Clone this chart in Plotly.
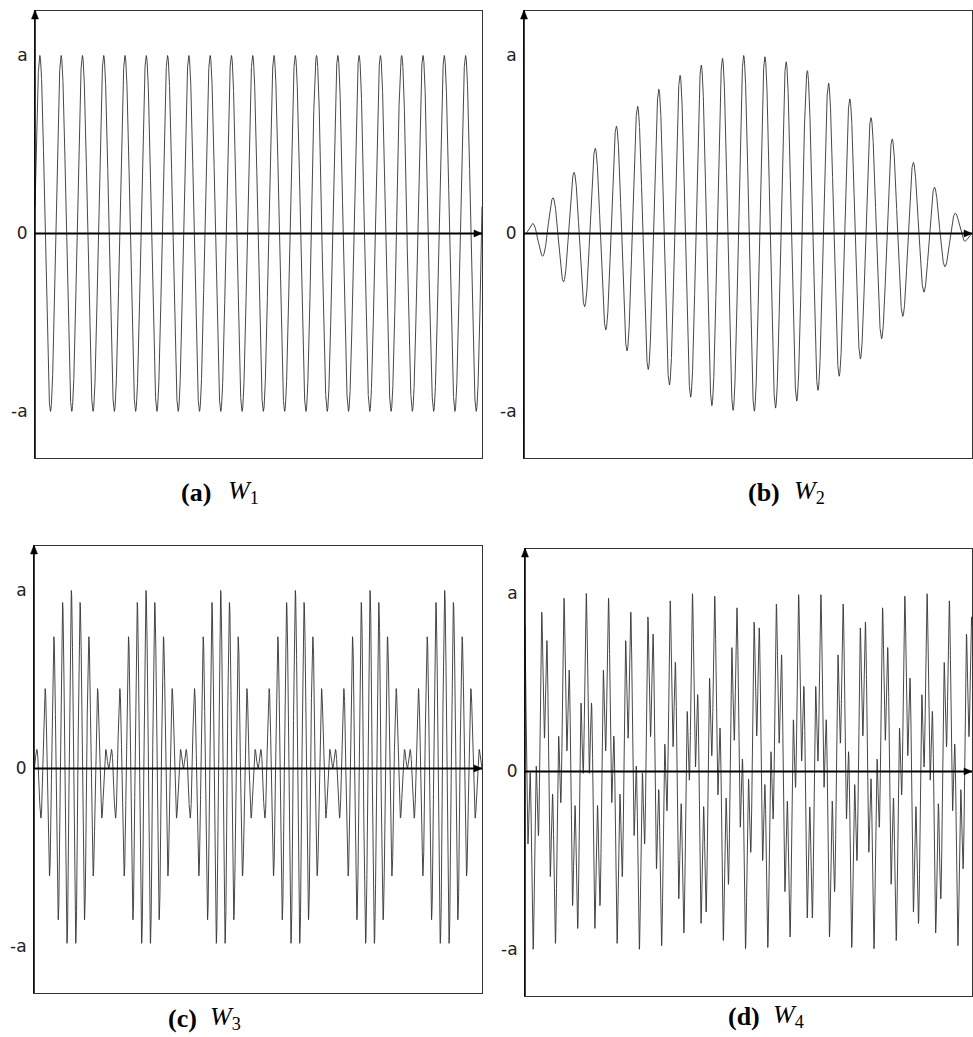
import numpy as np
import plotly.graph_objects as go

FIG_W, FIG_H = 973, 1037

# ---------------- data ----------------
panel_letters = ["(a)", "(b)", "(c)", "(d)"]
wave_symbols = ["W", "W", "W", "W"]
wave_indices = ["1", "2", "3", "4"]
y_tick_values = [1, 0, -1]
y_tick_labels = ["a", "0", "-a"]

# sinusoid components of each waveform, counted on the picture:
# cycles across the panel width, amplitude (units of a), phase (rad)
w1_freqs = [21.0]
w1_amps = [1.0]
w1_phases = [0.15]

w2_freqs = [21.1]
w2_amps = [1.0]
w2_phases = [-0.6]
w2_envelope_half_cycles = [1.0]

w3_freqs = [48.0, 54.0]
w3_amps = [0.5, 0.5]
w3_phases = [np.pi / 2, -np.pi / 2]

w4_freqs = [21.0, 80.0]
w4_amps = [0.6, 0.4]
w4_phases = [2.344, 1.825]

# ---------------- build curves ----------------
t = np.linspace(0.0, 1.0, 9000)


def components(freqs, amps, phases):
    y = np.zeros_like(t)
    for f, a, p in zip(freqs, amps, phases):
        y += a * np.sin(2 * np.pi * f * t + p)
    return y


w1 = components(w1_freqs, w1_amps, w1_phases)
w2 = components(w2_freqs, w2_amps, w2_phases) * np.sin(np.pi * w2_envelope_half_cycles[0] * t)
w3 = components(w3_freqs, w3_amps, w3_phases)
w4 = components(w4_freqs, w4_amps, w4_phases)
waves = [w1, w2, w3, w4]

# ---------------- layout geometry (pixels) ----------------
frames = [  # left, top, right, bottom
    (35, 11, 482, 458),
    (524, 11, 972, 458),
    (34, 546, 482, 993),
    (525, 549, 972, 996),
]
caption_pos = [  # letter right edge, W left edge, y centre
    (213, 226, 492),
    (782, 792, 492),
    (199, 208, 1018),
    (762, 771, 1016),
]
Y_LO, Y_HI = -1.262, 1.25
ARROW_LEN, ARROW_HALF = 8, 3.5


def px(x):
    return x / FIG_W


def py(y):
    return 1 - y / FIG_H


fig = go.Figure()
layout = dict(
    width=FIG_W, height=FIG_H,
    margin=dict(l=0, r=0, t=0, b=0),
    paper_bgcolor="white", plot_bgcolor="white",
    showlegend=False,
)
shapes = []
annotations = []
for i, (wave, fr) in enumerate(zip(waves, frames)):
    n = "" if i == 0 else str(i + 1)
    xa, ya = "x" + n, "y" + n
    fig.add_trace(go.Scatter(
        x=t, y=wave, mode="lines", xaxis=xa, yaxis=ya,
        line=dict(color="#333333", width=0.9), hoverinfo="skip",
    ))
    L, T, R, B = fr
    layout["xaxis" + n] = dict(
        domain=[px(L), px(R)], range=[0, 1], anchor=ya,
        showline=True, mirror=True, linecolor="#333333", linewidth=1,
        showgrid=False, zeroline=False, showticklabels=False, ticks="",
    )
    layout["yaxis" + n] = dict(
        domain=[py(B), py(T)], range=[Y_LO, Y_HI], anchor=xa,
        showline=True, mirror=True, linecolor="#333333", linewidth=1,
        showgrid=False, zeroline=False,
        tickmode="array", tickvals=y_tick_values, ticktext=y_tick_labels,
        ticks="outside", ticklen=3, tickcolor="rgba(0,0,0,0)",
        tickfont=dict(family="DejaVu Sans", size=17, color="#222222"),
    )
    # horizontal axis at 0 (over the curve)
    shapes.append(dict(type="line", xref=xa + " domain", yref=ya,
                       x0=0, x1=1, y0=0, y1=0, layer="above",
                       line=dict(color="black", width=2)))
    # vertical axis
    shapes.append(dict(type="line", xref=xa + " domain", yref=ya + " domain",
                       x0=0, x1=0, y0=0, y1=1, layer="above",
                       line=dict(color="black", width=1.5)))
    # arrow head of the horizontal axis (pixel-sized, symmetric)
    shapes.append(dict(type="path", xref=xa, yref=ya, layer="above",
                       xsizemode="pixel", ysizemode="pixel",
                       xanchor=1, yanchor=0,
                       path="M0,0 L-%g,%g L-%g,-%g Z" % (ARROW_LEN, ARROW_HALF, ARROW_LEN, ARROW_HALF),
                       fillcolor="black", line=dict(color="black", width=0.5)))
    # arrow head of the vertical axis (paper coords derived from frame pixels)
    shapes.append(dict(type="path", xref="paper", yref="paper", layer="above",
                       path="M%f,%f L%f,%f L%f,%f Z" % (
                           px(L), py(T - 1),
                           px(L - ARROW_HALF), py(T + ARROW_LEN),
                           px(L + ARROW_HALF), py(T + ARROW_LEN)),
                       fillcolor="black", line=dict(color="black", width=0.5)))
    # caption
    lr, wl, cy = caption_pos[i]
    annotations.append(dict(x=px(lr), y=py(cy), xref="paper", yref="paper",
                            xanchor="right", yanchor="middle", showarrow=False,
                            text="<b>" + panel_letters[i] + "</b>",
                            font=dict(family="Liberation Serif", size=26, color="black")))
    annotations.append(dict(x=px(wl), y=py(cy), xref="paper", yref="paper",
                            xanchor="left", yanchor="middle", showarrow=False,
                            text="<i>" + wave_symbols[i] + "</i><sub>" + wave_indices[i] + "</sub>",
                            font=dict(family="Liberation Serif", size=26, color="black")))

layout["shapes"] = shapes
layout["annotations"] = annotations
fig.update_layout(**layout)
fig.write_html("out.html", config={"displayModeBar": False},
               post_script="document.body.style.margin='0';")
